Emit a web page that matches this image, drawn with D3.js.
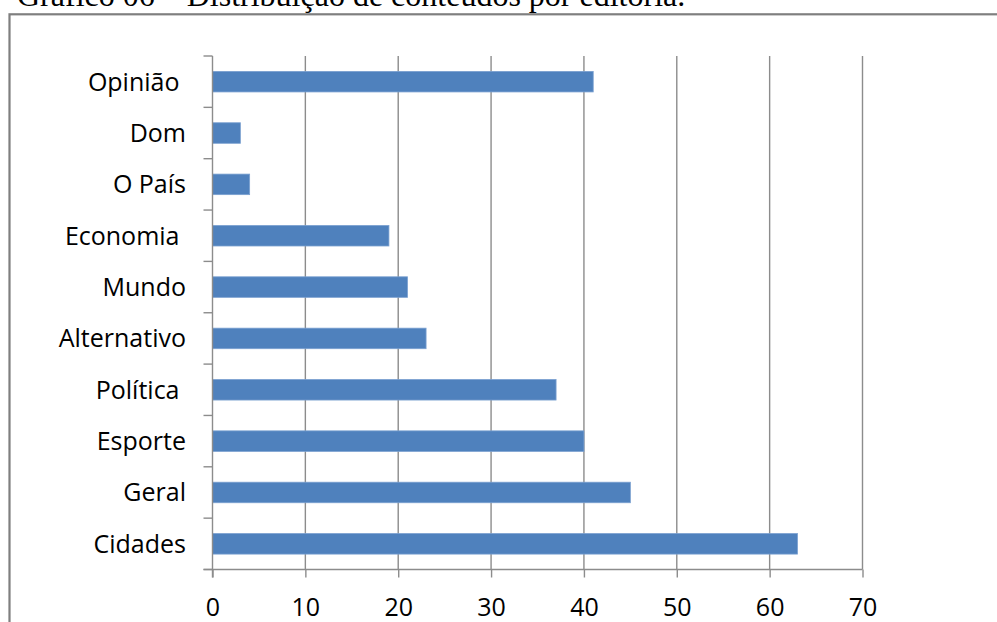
<!DOCTYPE html>
<html>
<head>
<meta charset="utf-8">
<script src="https://cdn.jsdelivr.net/npm/d3@7"></script>
<style>
  html, body { margin: 0; padding: 0; background: #fff; overflow: hidden; }
  svg { display: block; }
</style>
</head>
<body>
<script>
// Contents per editorial section (top to bottom)
const categories = ["Opinião", "Dom", "O País", "Economia", "Mundo", "Alternativo", "Política", "Esporte", "Geral", "Cidades"];
const labels = ["Opinião\u00a0", "Dom", "O País", "Economia\u00a0", "Mundo", "Alternativo", "Política\u00a0", "Esporte", "Geral", "Cidades"];
const values = [41, 3, 4, 19, 21, 23, 37, 40, 45, 63];
const xTicks = [0, 10, 20, 30, 40, 50, 60, 70];
const title = "Gráfico 06 – Distribuição de conteúdos por editoria.";

const W = 997, H = 622;
const svg = d3.select("body").append("svg").attr("width", W).attr("height", H);

// Caption above the frame
svg.append("text")
  .attr("x", 17).attr("y", 6)
  .attr("font-family", "'Liberation Serif', 'Times New Roman', serif")
  .attr("font-size", 32)
  .attr("fill", "#000")
  .text(title);

// Chart frame
svg.append("rect")
  .attr("x", 9.5).attr("y", 14.3)
  .attr("width", 1010).attr("height", 700)
  .attr("fill", "none")
  .attr("stroke", "#7f7f7f")
  .attr("stroke-width", 2.2);

const plot = { left: 212.5, right: 862.5, top: 56, bottom: 569.5 };

const x = d3.scaleLinear().domain([0, 70]).range([plot.left, plot.right]);
const y = d3.scaleBand().domain(categories).range([plot.top, plot.bottom])
  .paddingInner(0.6).paddingOuter(0.3);

const gridColor = "#8c8c8c";
const font = "'Open Sans', 'Noto Sans', sans-serif";
const fontSize = 25;

// Vertical gridlines
svg.append("g").selectAll("line")
  .data(xTicks.filter(d => d > 0))
  .join("line")
  .attr("x1", d => x(d)).attr("x2", d => x(d))
  .attr("y1", plot.top).attr("y2", plot.bottom)
  .attr("stroke", gridColor).attr("stroke-width", 1.4);

// Bars
svg.append("g").selectAll("rect")
  .data(categories.map((c, i) => ({ c, v: values[i] })))
  .join("rect")
  .attr("x", x(0))
  .attr("y", d => y(d.c))
  .attr("width", d => x(d.v) - x(0))
  .attr("height", y.bandwidth())
  .attr("fill", "#4f81bd")
  .attr("stroke", "#7aa0d0")
  .attr("stroke-width", 0.8);

// Category axis: line plus tick marks at band boundaries
const yAxis = svg.append("g");
const bounds = d3.range(categories.length + 1)
  .map(i => plot.top + (plot.bottom - plot.top) * i / categories.length);
yAxis.selectAll("line.tick")
  .data(bounds)
  .join("line")
  .attr("class", "tick")
  .attr("x1", plot.left - 9).attr("x2", plot.left)
  .attr("y1", d => d).attr("y2", d => d)
  .attr("stroke", gridColor).attr("stroke-width", 1.4);
yAxis.append("line")
  .attr("x1", plot.left).attr("x2", plot.left)
  .attr("y1", plot.top).attr("y2", plot.bottom + 8)
  .attr("stroke", gridColor).attr("stroke-width", 1.4);
yAxis.selectAll("text")
  .data(categories.map((c, i) => ({ c, label: labels[i] })))
  .join("text")
  .attr("x", 186)
  .attr("y", d => y(d.c) + y.bandwidth() / 2)
  .attr("dy", "0.36em")
  .attr("text-anchor", "end")
  .attr("font-family", font)
  .attr("font-size", fontSize)
  .attr("fill", "#000")
  .text(d => d.label);

// Value axis along the bottom
const xAxis = d3.axisBottom(x).tickValues(xTicks).tickSize(8).tickFormat(d3.format("d"));
const gx = svg.append("g").attr("transform", `translate(0,${plot.bottom})`).call(xAxis);
gx.select(".domain").attr("stroke", gridColor).attr("stroke-width", 1.4)
  .attr("d", `M${plot.left - 9},0H${plot.right}`);
gx.selectAll(".tick line").attr("stroke", gridColor).attr("stroke-width", 1.4);
gx.selectAll(".tick text")
  .attr("y", 46.5)
  .attr("dy", null)
  .attr("font-family", font)
  .attr("font-size", fontSize)
  .attr("fill", "#000");
</script>
</body>
</html>
